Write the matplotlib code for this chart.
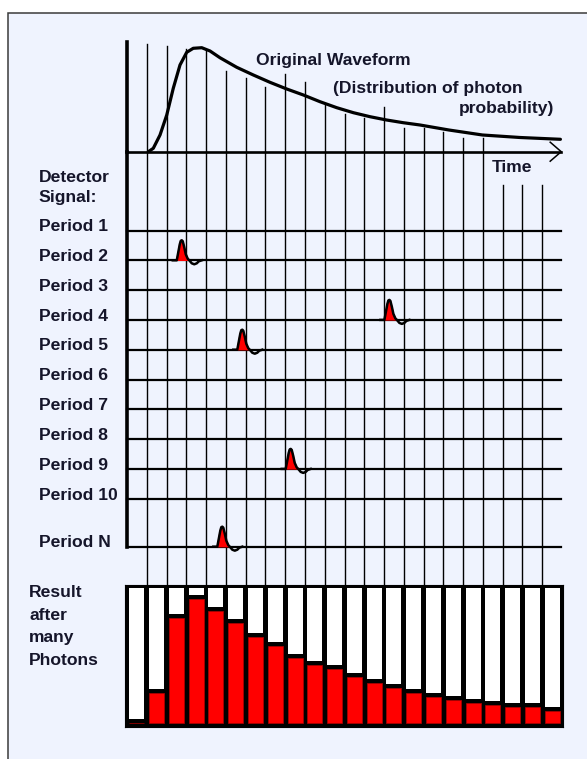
import matplotlib
matplotlib.use("Agg")
import matplotlib.pyplot as plt
from matplotlib.patches import Rectangle
import numpy as np

# ---- values ----
# original waveform: time in period bins, height above the time axis
wave_t = [1.08, 1.33, 1.67, 2.01, 2.34, 2.68, 3.02, 3.35, 3.78, 4.20, 4.70,
          5.55, 6.39, 7.23, 8.08, 8.92, 9.76, 10.61, 11.45, 12.29, 13.13,
          13.97, 14.82, 16.28, 17.98, 19.88, 21.92]
wave_a = [0, 3.4, 16.7, 36.7, 63.4, 86.7, 99.4, 103.4, 104, 100.7, 94,
          84.4, 76.7, 69.4, 62.7, 56.7, 50, 44, 39, 35, 31.7,
          29, 26.7, 21.7, 16.7, 14.2, 12.4]

# histogram after many photons (one bar per time bin)
hist_counts = [0, 30, 105, 124, 112, 100, 86, 77, 65, 58, 54, 46, 40, 35,
               30, 26, 23, 20, 18, 16, 16, 12]
n_bins = len(hist_counts)

# where each bin divider starts at the top (height above time axis)
grid_tops = [107.4, 105.7, 102.7, 101.7, 80.7, 73.4, 65, 77.4, 69.4, 46.7,
             38, 33.4, 44.4, 23.4, 23.4, 20, 14, 14, -33.3, -33.3, -33.3]

period_labels = ["Period 1", "Period 2", "Period 3", "Period 4", "Period 5",
                 "Period 6", "Period 7", "Period 8", "Period 9", "Period 10",
                 "Period N"]
period_rows = [1, 2, 3, 4, 5, 6, 7, 8, 9, 10, 11.61]

# detected photon pulses: period and time bin of the peak
pulse_period = ["Period 2", "Period 4", "Period 5", "Period 9", "Period N"]
pulse_bin = [2.77, 13.27, 5.83, 8.28, 4.82]

# shape of one detector pulse (pixels, relative to the peak)
pulse_dx = np.array([-9, -5, -3.5, -2, -1, 0, 1, 2.5, 4, 6, 7.5, 10, 12.5, 15, 17, 20])
pulse_dy = np.array([0, 0, 8, 16, 19.5, 20, 19, 13, 6, 1.5, 0, -3, -4, -3, -1, 0])

# ---- layout (pixels) ----
W, H = 587, 759
X0, X1 = 127, 562
BW = (X1 - X0) / n_bins
AX_Y = 151.7
ROW0, ROW_H = 230.5, 29.8
HIST_TOP, HIST_BOT = 585, 727

INK = "#15152a"
plt.rcParams["font.family"] = ["Liberation Sans", "DejaVu Sans"]
plt.rcParams["font.weight"] = "bold"

fig = plt.figure(figsize=(W / 100, H / 100), dpi=100)
fig.patch.set_facecolor("white")


def place(x0, y0, x1, y1):
    return fig.add_axes([x0 / W, 1 - y1 / H, (x1 - x0) / W, (y1 - y0) / H])


def row_of(y):
    return 1 + (y - ROW0) / ROW_H


# background panel and text
ax_bg = place(0, 0, W, H)
ax_bg.set_xlim(0, W)
ax_bg.set_ylim(H, 0)
ax_bg.axis("off")
ax_bg.add_patch(Rectangle((7.5, 13), 700, 900, facecolor="#eff3fe",
                          edgecolor="#3a3a3a", lw=1.1))

fs = 12.6
ax_bg.text(255.7, 64.5, "Original Waveform", fontsize=fs, color=INK)
ax_bg.text(333, 93.3, "(Distribution of photon", fontsize=fs, color=INK)
ax_bg.text(554, 113.3, "probability)", fontsize=fs, color=INK, ha="right")
ax_bg.text(492, 172.5, "Time", fontsize=fs, color=INK)
ax_bg.text(38.6, 181.7, "Detector", fontsize=fs, color=INK)
ax_bg.text(38.6, 202, "Signal:", fontsize=fs, color=INK)
for lab, r in zip(period_labels, period_rows):
    ax_bg.text(39, ROW0 + (r - 1) * ROW_H + 0.8, lab, fontsize=fs, color=INK)
for lab, yb in zip(["Result", "after", "many", "Photons"], [597, 619.7, 642.3, 665]):
    ax_bg.text(29.2, yb, lab, fontsize=fs, color=INK)

# waveform panel
ax_w = place(X0, AX_Y - 110, X1, AX_Y)
ax_w.set_xlim(0, n_bins)
ax_w.set_ylim(0, 110)
ax_w.axis("off")
for k, top in enumerate(grid_tops, start=1):
    if top > 0:
        ax_w.plot([k, k], [0, top], color="black", lw=1.0, clip_on=False)
ax_w.plot(wave_t, wave_a, color="black", lw=2.3, solid_joinstyle="round",
          solid_capstyle="round", clip_on=False, zorder=4)
t_end = 21.96
ax_w.plot([0, t_end], [0, 0], color="black", lw=1.9, clip_on=False, zorder=3)
ax_w.plot([t_end - 11 / BW, t_end, t_end - 11 / BW], [9.5, 0, -9.5],
          color="black", lw=1.1, clip_on=False, zorder=3)
ax_w.plot([0, 0], [0, 110], color="black", lw=2.6, clip_on=False, zorder=5)

# detector signal panel
ax_s = place(X0, AX_Y, X1, HIST_TOP)
ax_s.set_xlim(0, n_bins)
ax_s.set_ylim(row_of(HIST_TOP), row_of(AX_Y))
ax_s.axis("off")
for k, top in enumerate(grid_tops, start=1):
    start = row_of(AX_Y) if top > 0 else row_of(AX_Y - top)
    ax_s.plot([k, k], [start, row_of(HIST_TOP)], color="black", lw=1.0,
              clip_on=False)
for r in period_rows:
    ax_s.plot([0, t_end], [r, r], color="black", lw=1.6, clip_on=False, zorder=3)
ax_s.plot([0, 0], [row_of(AX_Y), period_rows[-1]], color="black", lw=2.6,
          clip_on=False, zorder=5)

lobe = (pulse_dy >= 0) & (pulse_dx >= -5) & (pulse_dx <= 7.5)
for per, b in zip(pulse_period, pulse_bin):
    r = period_rows[period_labels.index(per)]
    px = b + pulse_dx / BW
    py = r - pulse_dy / ROW_H
    ax_s.fill(px[lobe], py[lobe], color="red", zorder=4, clip_on=False)
    ax_s.plot(px, py, color="black", lw=1.8, solid_joinstyle="round",
              zorder=5, clip_on=False)

# histogram panel
ax_h = place(125, HIST_TOP, 563, HIST_BOT)
ax_h.set_xlim((125 - X0) / BW, (563 - X0) / BW)
ax_h.set_ylim(-(HIST_BOT - 723), 723 - HIST_TOP)
ax_h.set_facecolor("black")
ax_h.set_xticks([])
ax_h.set_yticks([])
for s in ax_h.spines.values():
    s.set_color("black")
centers = np.arange(n_bins) + 0.5
counts = np.array(hist_counts)
col_top = 723 - 588.3
gap = 4.5
ax_h.bar(centers, col_top - (counts + gap), bottom=counts + gap, width=0.76,
         color="white")
ax_h.bar(centers, counts, width=0.76, color="#ff0000", edgecolor="#b00000",
         lw=0.5)

fig.savefig("out.png", dpi=100)
